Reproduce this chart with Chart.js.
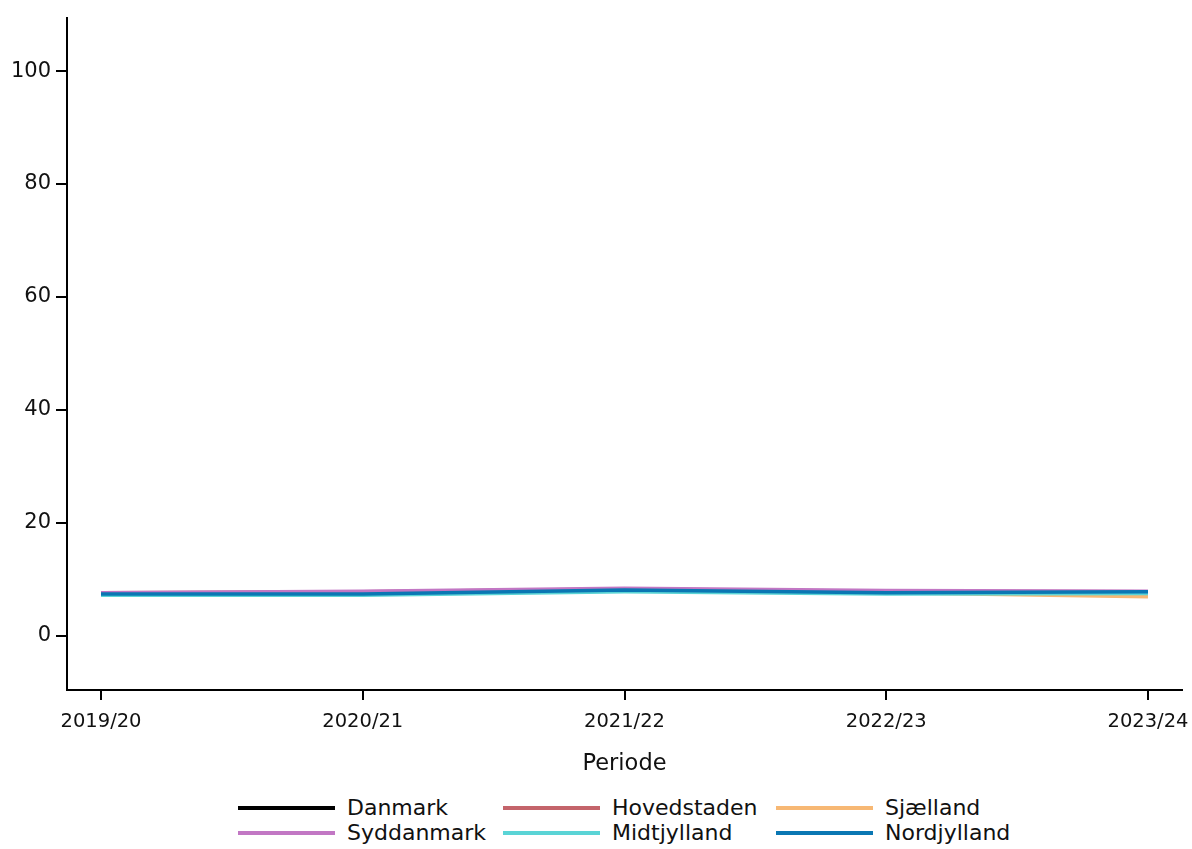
<!DOCTYPE html>
<html>
<head>
<meta charset="utf-8">
<script src="https://cdn.jsdelivr.net/npm/chart.js@4"></script>
<style>
  body { margin: 0; background: #fff; font-family: "DejaVu Sans", sans-serif; }
  #wrap { position: relative; width: 1192px; height: 795px; }
  #legend {
    display: grid;
    grid-template-columns: 265px 273px 240px;
    margin-left: 238px;
    row-gap: 0px;
    font-size: 22px;
    color: #111;
  }
  .item { display: flex; align-items: center; height: 25px; }
  .swatch { width: 97px; height: 4px; margin-right: 12px; }
</style>
</head>
<body>
<div id="wrap"><canvas id="chart"></canvas></div>
<div id="legend"></div>
<script>
// Periods and values (share)
const periods = ["2019/20", "2020/21", "2021/22", "2022/23", "2023/24"];
const danmark     = [7.5, 7.7, 8.2, 7.8, 7.8];
const hovedstaden = [7.6, 7.8, 8.3, 7.9, 7.8];
const sjaelland   = [7.5, 7.6, 8.0, 7.6, 6.9];
const syddanmark  = [7.6, 7.9, 8.4, 8.0, 7.9];
const midtjylland = [7.2, 7.2, 7.8, 7.4, 7.5];
const nordjylland = [7.4, 7.4, 8.1, 7.6, 7.8];
const yTicks = [0, 20, 40, 60, 80, 100];

const series = [
  { label: "Danmark", data: danmark, color: "#000000" },
  { label: "Hovedstaden", data: hovedstaden, color: "#c4646b" },
  { label: "Sjælland", data: sjaelland, color: "#f7b874" },
  { label: "Syddanmark", data: syddanmark, color: "#c277c4" },
  { label: "Midtjylland", data: midtjylland, color: "#5ad4d6" },
  { label: "Nordjylland", data: nordjylland, color: "#0a77b3" }
];

const datasets = series.map((s, i) => ({
  label: s.label,
  data: s.data.map((v, j) => ({ x: j, y: v })),
  borderColor: s.color,
  backgroundColor: s.color,
  borderWidth: 3.5,
  pointRadius: 0,
  tension: 0,
  order: series.length - i // last one on top
}));

const tickFont = { family: "DejaVu Sans", size: 19.5 };

new Chart(document.getElementById("chart"), {
  type: "line",
  data: { datasets: datasets },
  options: {
    responsive: true,
    maintainAspectRatio: false,
    animation: false,
    layout: { padding: { top: 18, right: 10, left: 0, bottom: 0 } },
    plugins: { legend: { display: false }, tooltip: { enabled: false } },
    scales: {
      x: {
        type: "linear",
        min: -0.13,
        max: 4.13,
        afterBuildTicks: axis => { axis.ticks = periods.map((p, i) => ({ value: i })); },
        afterFit: axis => {
          axis.height = 105;
          axis.paddingLeft = 0;
          axis.paddingRight = 0;
        },
        ticks: {
          color: "#111",
          font: tickFont,
          padding: 10,
          maxRotation: 0,
          callback: v => periods[v]
        },
        grid: { display: true, drawOnChartArea: false, drawTicks: true, tickLength: 10, color: "#000", lineWidth: 2 },
        border: { color: "#000", width: 2 },
        title: { display: true, text: "Periode", color: "#111", font: { family: "DejaVu Sans", size: 22.5 }, padding: { top: 12, bottom: 17 } }
      },
      y: {
        min: -9.6,
        max: 109.4,
        afterBuildTicks: axis => { axis.ticks = yTicks.map(v => ({ value: v })); },
        afterFit: axis => { axis.width = 67; },
        ticks: { color: "#111", font: { family: "DejaVu Sans", size: 21 }, padding: 5 },
        grid: { display: true, drawOnChartArea: false, drawTicks: true, tickLength: 11, color: "#000", lineWidth: 2 },
        border: { color: "#000", width: 2 }
      }
    }
  }
});

// Legend in three aligned columns
const legend = document.getElementById("legend");
series.forEach(s => {
  const item = document.createElement("div");
  item.className = "item";
  item.innerHTML = `<span class="swatch" style="background:${s.color}"></span><span>${s.label}</span>`;
  legend.appendChild(item);
});
</script>
</body>
</html>
